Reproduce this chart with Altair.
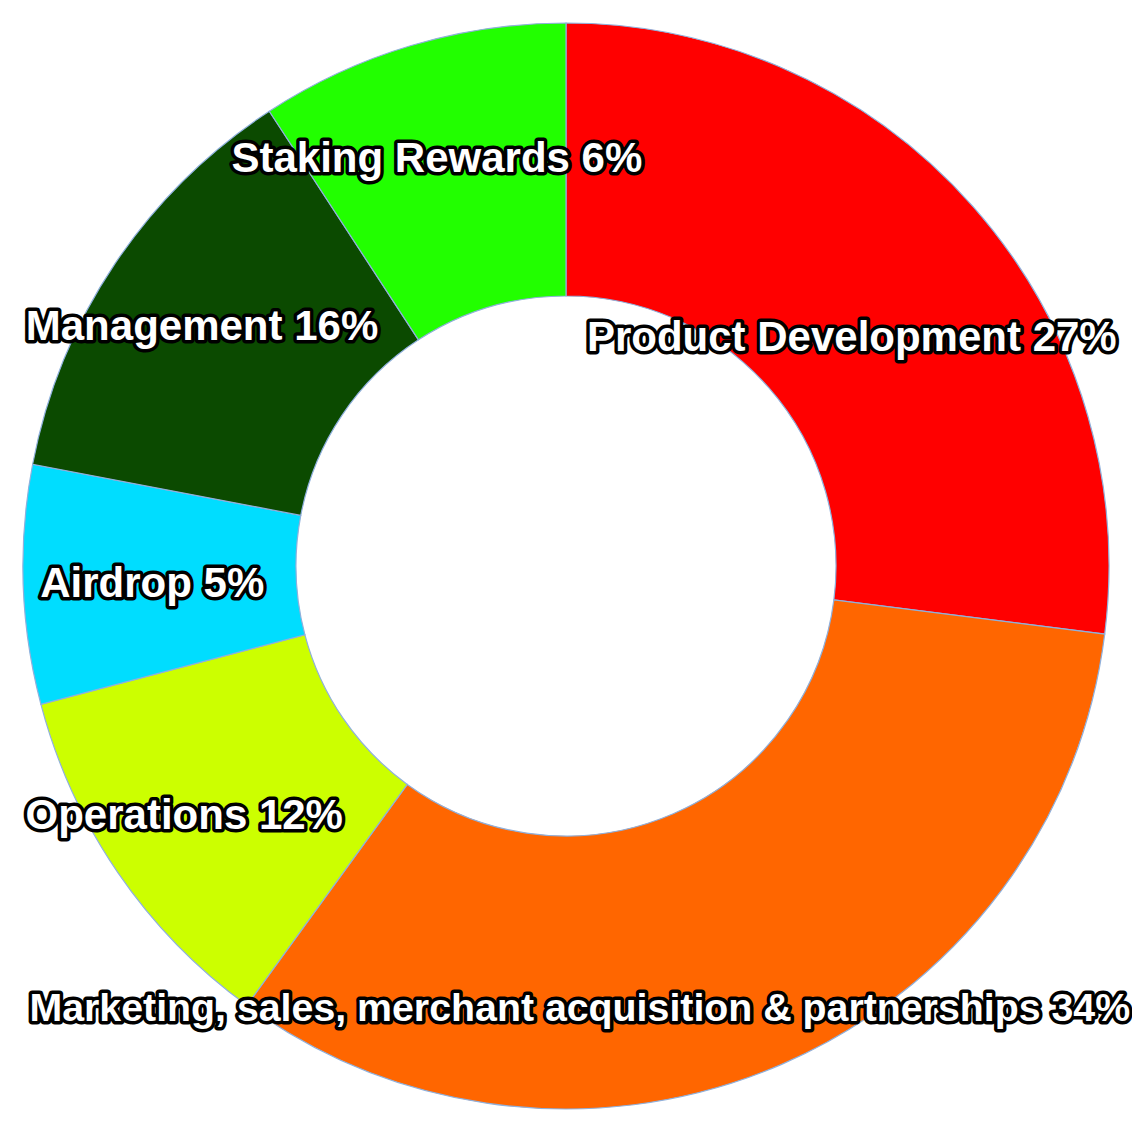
import math
import altair as alt
import pandas as pd

# Slice names, slice sizes as drawn (share of the ring), printed labels, colours
categories = [
    "Product Development",
    "Marketing, sales, merchant acquisition & partnerships",
    "Operations",
    "Airdrop",
    "Management",
    "Staking Rewards",
]
shares = [27.0, 33.0, 10.9, 7.1, 12.8, 9.2]
labels = [
    "Product Development 27%",
    "Marketing, sales, merchant acquisition & partnerships 34%",
    "Operations 12%",
    "Airdrop 5%",
    "Management 16%",
    "Staking Rewards 6%",
]
colors = ["#FF0000", "#FF6600", "#CCFF00", "#00DDFF", "#0B4A00", "#22FF00"]

# label style: nudges (pixels) from the arc mid-point placement, and font sizes
nudges = [(-33, 53), (-155, 53), (-31, 10), (11, 3), (-11, -2), (-8, 0)]
font_sizes = [42, 39.3, 42, 42, 42, 42]

df = pd.DataFrame({
    "category": categories,
    "share": shares,
    "label": labels,
    "order": list(range(len(categories))),
})
total = float(sum(shares))
theta_scale = alt.Scale(domain=[0, total], range=[0, 2 * math.pi])

stacked = (
    alt.Chart(df)
    .transform_stack(stack="share", groupby=[], as_=["s0", "s1"],
                     sort=[alt.SortField("order", order="ascending")])
    .transform_calculate(mid="(datum.s0 + datum.s1) / 2")
)

arcs = stacked.mark_arc(
    innerRadius=270, outerRadius=543, stroke="#8fb0dc", strokeWidth=1.2
).encode(
    theta=alt.Theta("s0:Q", scale=theta_scale),
    theta2="s1:Q",
    color=alt.Color("category:N", scale=alt.Scale(domain=categories, range=colors), legend=None),
)

text_style = dict(radius=425, font="Liberation Sans", fontWeight="bold",
                  align="center", baseline="middle")

outlines = []
fills = []
for cat, (dx, dy), fs in zip(categories, nudges, font_sizes):
    b = stacked.transform_filter(alt.datum.category == cat).encode(
        theta=alt.Theta("mid:Q", scale=theta_scale),
        text="label:N",
    )
    outlines.append(b.mark_text(**text_style, fontSize=fs, dx=dx, dy=dy, fill="black",
                                stroke="black", strokeWidth=7, strokeJoin="round"))
    fills.append(b.mark_text(**text_style, fontSize=fs, dx=dx, dy=dy, fill="white"))

chart = (
    alt.layer(arcs, *outlines, *fills)
    .properties(width=1132, height=1132, padding=0, background="white",
                autosize=alt.AutoSizeParams(type="none"))
    .configure_view(stroke=None)
)

chart.save("out.html", embed_options={"renderer": "svg", "actions": False})
